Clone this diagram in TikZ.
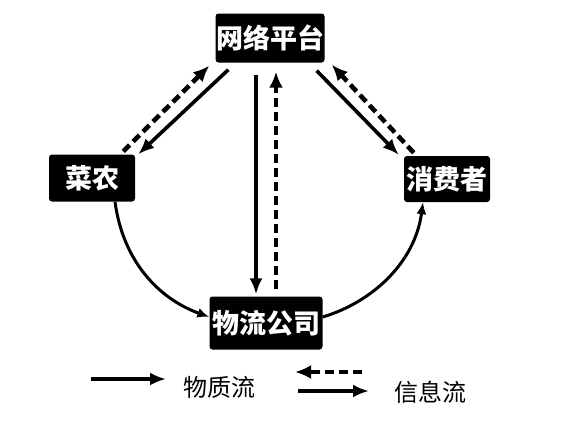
\documentclass[tikz,border=0pt]{standalone}
\usepackage{fontspec}
\setmainfont{Liberation Sans}
\newfontfamily\cjk{Noto Sans CJK SC}
\usetikzlibrary{arrows.meta}

\begin{document}
\begin{tikzpicture}[x=1pt,y=-1pt,
    box/.style={fill=black,text=white,font=\cjk\bfseries\fontsize{27}{30}\selectfont,inner sep=0pt,rounded corners=3pt},
    legendtext/.style={font=\cjk\fontsize{24}{28}\selectfont},
    wu/.style={line width=3.6pt,-{Latex[length=16pt,width=13pt]}},
    xin/.style={line width=4.6pt,dash pattern=on 9pt off 5pt,-{Latex[length=16pt,width=14pt]}}]
\useasboundingbox (0,0) rectangle (581,421);
\node[box,minimum width=109pt,minimum height=49pt] (platform) at (270,38){网络平台};
\node[box,minimum width=86pt,minimum height=47pt] (farmer) at (92,178){菜农};
\node[box,minimum width=86pt,minimum height=46pt] (consumer) at (447,179){消费者};
\node[box,minimum width=113pt,minimum height=53pt] (logistics) at (266,323){物流公司};
\draw[xin] ([xshift=-12pt,yshift=3pt]farmer.north east) -- ([xshift=-6pt,yshift=-3pt]platform.south west);
\draw[wu] ([xshift=13pt,yshift=-7pt]platform.south west) -- ([xshift=3pt]farmer.north east);
\draw[wu] ([xshift=-14pt,yshift=-12pt]platform.south) -- ([xshift=-10pt,yshift=2pt]logistics.north);
\draw[xin] ([xshift=10pt,yshift=7pt]logistics.north) -- ([xshift=6pt,yshift=-9pt]platform.south);
\draw[wu] ([xshift=-8pt,yshift=-8pt]platform.south east) -- ([xshift=-5pt,yshift=1pt]consumer.north west);
\draw[xin] ([xshift=10pt,yshift=3pt]consumer.north west) -- ([xshift=7pt,yshift=-2pt]platform.south east);
\draw[line width=3pt,-{Latex[length=12pt,width=10pt]}] ([xshift=23pt]farmer.south) .. controls +(8,60) and +(-50,-18) .. ([yshift=6pt]logistics.west);
\draw[line width=3pt,-{Latex[length=12pt,width=10pt]}] ([yshift=6pt]logistics.east) .. controls +(50,-15) and +(-8,60) .. ([xshift=-24pt]consumer.south);
% legend
\coordinate (wuA) at (91,379);
\coordinate (wuB) at (166,379);
\draw[wu] (wuA) -- (wuB);
\node[legendtext] (wuText) at (219,387){物质流};
\coordinate (xinA) at (362,372);
\coordinate (xinB) at (295,372);
\draw[xin,line width=4pt] (xinA) -- (xinB);
\coordinate (xinC) at (298,391);
\coordinate (xinD) at (369,391);
\draw[wu] (xinC) -- (xinD);
\node[legendtext] (xinText) at (430,392){信息流};
\end{tikzpicture}
\end{document}
